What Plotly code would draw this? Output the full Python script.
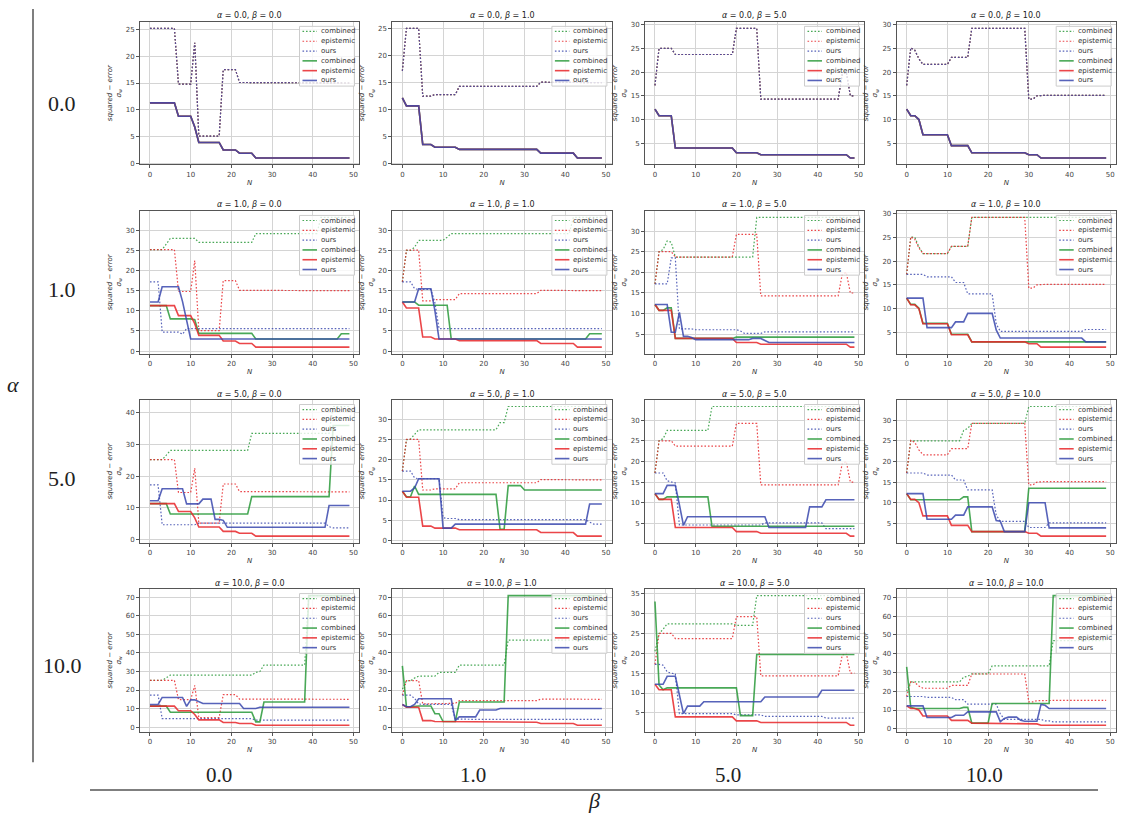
import numpy as np
import plotly.graph_objects as go

ALPHAS = [0.0, 1.0, 5.0, 10.0]
BETAS = [0.0, 1.0, 5.0, 10.0]
N = np.arange(50)
METHODS = ["combined", "epistemic", "ours"]

# Step curves along N = 0..49, stored as (value, run length) pairs.
# Epistemic curves depend on beta only.
epi_dot_b0 = [(25.2, 7), (14.8, 4), (22.5, 1), (5.1, 6), (17.5, 4), (15.1, 4), (15.0, 24)]
epi_dot_b1 = [(17.2, 1), (25.1, 4), (12.5, 3), (12.8, 6), (14.3, 20), (15.1, 12), (15.0, 4)]
epi_dot_b5 = [(17.2, 1), (25.0, 4), (23.7, 15), (29.2, 6), (14.3, 20), (19.5, 1), (20.0, 1), (15.0, 2)]
epi_dot_b10 = [(17.2, 1), (25.1, 1), (24.6, 1), (22.8, 1), (21.6, 7), (23.1, 5), (29.2, 14), (14.3, 2), (15.0, 1), (15.1, 17)]

epi_sol_b0 = [(11.3, 7), (8.8, 4), (6.8, 1), (3.9, 6), (2.5, 4), (1.9, 4), (1.0, 24)]
epi_sol_b1 = [(12.2, 1), (10.7, 4), (3.5, 3), (3.0, 6), (2.6, 20), (1.9, 9), (1.0, 7)]
epi_sol_b5 = [(12.2, 1), (10.8, 4), (4.0, 15), (3.0, 6), (2.6, 22), (1.9, 2)]
epi_sol_b10 = [(12.2, 1), (10.8, 2), (10.0, 1), (6.8, 7), (4.5, 5), (3.0, 14), (2.6, 3), (1.9, 17)]

# alpha = 1
comb_dot_a1_b0 = [(25.2, 4), (26.6, 1), (28.0, 7), (27.0, 14), (29.2, 16), (33.2, 8)]
ours_dot_a1_b0 = [(17.2, 3), (4.7, 5), (4.2, 1), (5.6, 41)]
comb_sol_a1_b0 = [(11.3, 5), (8.0, 6), (7.8, 1), (4.4, 14), (3.0, 21), (4.3, 3)]
ours_sol_a1_b0 = [(12.2, 3), (16.0, 5), (12.3, 1), (7.5, 1), (3.0, 40)]

comb_dot_a1_b1 = [(17.2, 1), (25.0, 2), (25.8, 1), (27.5, 7), (28.3, 1), (29.2, 30), (33.2, 8)]
ours_dot_a1_b1 = [(17.2, 3), (15.5, 1), (15.3, 4), (12.0, 1), (5.6, 41)]
comb_sol_a1_b1 = [(12.2, 4), (11.4, 8), (3.0, 34), (4.3, 4)]
ours_sol_a1_b1 = [(12.2, 4), (15.5, 4), (10.0, 1), (3.0, 41)]

comb_dot_a1_b5 = [(17.2, 1), (25.0, 1), (25.5, 1), (27.6, 1), (27.3, 1), (23.7, 20), (33.3, 25)]
ours_dot_a1_b5 = [(17.2, 4), (23.5, 2), (6.3, 4), (6.1, 11), (5.8, 1), (5.2, 5), (5.6, 23)]
comb_sol_a1_b5 = [(12.2, 1), (10.8, 2), (11.4, 2), (4.0, 15), (4.3, 30)]
ours_sol_a1_b5 = [(12.2, 4), (5.5, 2), (10.3, 1), (4.5, 2), (4.2, 1), (3.7, 14), (4.0, 3), (3.5, 1), (3.0, 22)]

comb_dot_a1_b10 = [(17.2, 1), (25.1, 1), (25.0, 1), (23.0, 1), (21.6, 7), (23.1, 5), (29.2, 34)]
ours_dot_a1_b10 = [(17.2, 5), (16.7, 7), (15.5, 3), (13.1, 7), (6.8, 1), (5.2, 21), (5.6, 6)]
comb_sol_a1_b10 = [(12.2, 1), (10.9, 2), (10.1, 1), (6.9, 7), (4.6, 5), (3.0, 34)]
ours_sol_a1_b10 = [(12.2, 5), (6.0, 7), (7.2, 3), (9.0, 7), (5.5, 1), (3.8, 21), (3.0, 6)]

# alpha = 5
comb_dot_a5_b0 = [(25.2, 4), (26.6, 1), (28.1, 20), (33.5, 20), (42.0, 5)]
ours_dot_a5_b0 = [(17.2, 3), (4.6, 9), (5.1, 32), (4.0, 1), (3.6, 5)]
comb_sol_a5_b0 = [(11.3, 5), (8.0, 20), (13.5, 20), (36.0, 5)]
ours_sol_a5_b0 = [(12.2, 3), (16.0, 6), (11.2, 4), (12.7, 3), (6.3, 2), (6.0, 1), (3.8, 25), (10.7, 6)]

comb_dot_a5_b1 = [(17.2, 1), (25.0, 1), (25.2, 1), (26.5, 1), (27.5, 20), (29.3, 2), (33.3, 24)]
ours_dot_a5_b1 = [(17.2, 3), (15.5, 1), (15.3, 6), (5.6, 1), (5.4, 3), (5.1, 32), (4.5, 1), (4.0, 3)]
comb_sol_a5_b1 = [(12.2, 1), (10.8, 2), (13.5, 1), (11.4, 20), (2.7, 2), (13.6, 4), (12.5, 20)]
ours_sol_a5_b1 = [(12.2, 3), (13.0, 1), (15.3, 6), (3.0, 3), (4.0, 33), (9.0, 4)]

comb_dot_a5_b5 = [(17.2, 1), (25.0, 1), (25.5, 1), (27.5, 11), (33.3, 36)]
ours_dot_a5_b5 = [(17.2, 3), (15.3, 1), (15.0, 1), (14.8, 1), (4.6, 21), (5.1, 15), (3.7, 8)]
comb_sol_a5_b5 = [(12.2, 1), (10.8, 2), (11.4, 11), (4.3, 36)]
ours_sol_a5_b5 = [(12.2, 3), (14.2, 3), (9.5, 1), (4.5, 1), (6.6, 20), (4.0, 10), (9.0, 4), (10.7, 8)]

comb_dot_a5_b10 = [(17.2, 1), (25.0, 13), (27.5, 1), (28.0, 1), (29.2, 14), (33.3, 20)]
ours_dot_a5_b10 = [(17.2, 5), (16.7, 7), (15.5, 3), (13.1, 7), (7.0, 1), (5.5, 7), (4.0, 5), (5.1, 15)]
comb_sol_a5_b10 = [(12.2, 1), (10.7, 13), (11.4, 2), (3.0, 14), (13.5, 20)]
ours_sol_a5_b10 = [(12.2, 5), (6.0, 7), (7.0, 3), (9.0, 7), (5.7, 1), (5.5, 1), (3.0, 6), (10.0, 5), (3.9, 15)]

# alpha = 10
comb_dot_a10_b0 = [(25.2, 4), (26.6, 1), (28.1, 21), (29.5, 1), (30.0, 1), (33.5, 11), (71.0, 11)]
ours_dot_a10_b0 = [(17.2, 3), (4.6, 23), (3.7, 24)]
comb_sol_a10_b0 = [(11.3, 5), (8.0, 21), (2.8, 2), (13.5, 11), (71.0, 11)]
ours_sol_a10_b0 = [(12.2, 3), (16.0, 6), (11.2, 1), (14.7, 2), (13.5, 1), (12.7, 10), (10.0, 4), (10.7, 23)]

comb_dot_a10_b1 = [(20.5, 1), (25.0, 2), (26.5, 1), (27.5, 5), (29.5, 5), (33.5, 12), (47.0, 24)]
ours_dot_a10_b1 = [(17.2, 3), (15.5, 1), (12.5, 1), (12.2, 8), (4.3, 1), (4.2, 36)]
comb_sol_a10_b1 = [(33.0, 1), (11.0, 2), (11.4, 5), (7.2, 2), (3.0, 4), (13.5, 12), (71.0, 24)]
ours_sol_a10_b1 = [(12.2, 1), (11.0, 2), (12.2, 1), (15.3, 9), (3.6, 1), (5.5, 5), (9.2, 5), (10.0, 26)]

comb_dot_a10_b5 = [(20.5, 1), (25.0, 1), (26.0, 1), (27.4, 17), (27.0, 5), (34.5, 25)]
ours_dot_a10_b5 = [(17.2, 2), (17.0, 1), (15.3, 1), (15.0, 1), (14.8, 1), (4.8, 14), (4.5, 7), (4.1, 15), (3.7, 8)]
comb_sol_a10_b5 = [(33.0, 1), (12.0, 1), (10.8, 1), (11.3, 18), (4.3, 4), (19.7, 25)]
ours_sol_a10_b5 = [(12.2, 3), (14.2, 3), (9.5, 1), (4.8, 1), (6.7, 4), (7.8, 15), (9.0, 14), (10.7, 9)]

comb_dot_a10_b10 = [(20.0, 1), (25.0, 13), (27.5, 1), (28.0, 1), (29.3, 5), (33.5, 15), (47.0, 14)]
ours_dot_a10_b10 = [(17.2, 5), (16.7, 7), (15.5, 3), (13.1, 8), (8.0, 1), (5.0, 10), (4.2, 2), (3.7, 14)]
comb_sol_a10_b10 = [(33.0, 1), (11.5, 1), (10.8, 12), (11.4, 2), (3.0, 5), (13.5, 15), (71.0, 14)]
ours_sol_a10_b10 = [(12.2, 5), (6.0, 7), (7.2, 3), (9.0, 8), (3.8, 1), (5.5, 1), (6.2, 3), (4.5, 1), (4.0, 4), (13.0, 1), (12.5, 1), (10.8, 15)]

EPI_DOT = {0.0: epi_dot_b0, 1.0: epi_dot_b1, 5.0: epi_dot_b5, 10.0: epi_dot_b10}
EPI_SOL = {0.0: epi_sol_b0, 1.0: epi_sol_b1, 5.0: epi_sol_b5, 10.0: epi_sol_b10}

# (combined dotted, ours dotted, combined solid, ours solid) per (alpha, beta);
# with alpha = 0 all three methods coincide with the epistemic curves.
PANELS = {}
for b in BETAS:
    PANELS[(0.0, b)] = (EPI_DOT[b], EPI_DOT[b], EPI_SOL[b], EPI_SOL[b])
PANELS.update({
    (1.0, 0.0): (comb_dot_a1_b0, ours_dot_a1_b0, comb_sol_a1_b0, ours_sol_a1_b0),
    (1.0, 1.0): (comb_dot_a1_b1, ours_dot_a1_b1, comb_sol_a1_b1, ours_sol_a1_b1),
    (1.0, 5.0): (comb_dot_a1_b5, ours_dot_a1_b5, comb_sol_a1_b5, ours_sol_a1_b5),
    (1.0, 10.0): (comb_dot_a1_b10, ours_dot_a1_b10, comb_sol_a1_b10, ours_sol_a1_b10),
    (5.0, 0.0): (comb_dot_a5_b0, ours_dot_a5_b0, comb_sol_a5_b0, ours_sol_a5_b0),
    (5.0, 1.0): (comb_dot_a5_b1, ours_dot_a5_b1, comb_sol_a5_b1, ours_sol_a5_b1),
    (5.0, 5.0): (comb_dot_a5_b5, ours_dot_a5_b5, comb_sol_a5_b5, ours_sol_a5_b5),
    (5.0, 10.0): (comb_dot_a5_b10, ours_dot_a5_b10, comb_sol_a5_b10, ours_sol_a5_b10),
    (10.0, 0.0): (comb_dot_a10_b0, ours_dot_a10_b0, comb_sol_a10_b0, ours_sol_a10_b0),
    (10.0, 1.0): (comb_dot_a10_b1, ours_dot_a10_b1, comb_sol_a10_b1, ours_sol_a10_b1),
    (10.0, 5.0): (comb_dot_a10_b5, ours_dot_a10_b5, comb_sol_a10_b5, ours_sol_a10_b5),
    (10.0, 10.0): (comb_dot_a10_b10, ours_dot_a10_b10, comb_sol_a10_b10, ours_sol_a10_b10),
})


def expand(runs):
    vals = np.repeat([v for v, _ in runs], [c for _, c in runs]).astype(float)
    assert len(vals) == len(N)
    return vals


# ---- page geometry (pixels) ----
FIG_W, FIG_H = 1123, 815
COL_LEFT = [140.0, 392.4, 645.0, 896.7]
ROW_TOP = [21.0, 211.0, 401.0, 591.0]
AX_W, AX_H = 219.4, 143.3


def px(x):
    return x / FIG_W


def py(y):
    return 1 - y / FIG_H


COLORS = {"combined": "#2a9a3a", "epistemic": "#e8262a", "ours": "#3a48ae"}
DOT = "1.6px,1.9px"
FONT = "DejaVu Sans"
SERIF = "Liberation Serif"
TXT = "#333333"
Y_TITLE = "<i>squared</i> − <i>error</i><br><i>σ</i><sub>w</sub>"

fig = go.Figure()
shapes, annotations = [], []
layout_axes = {}

for r, a in enumerate(ALPHAS):
    for c, b in enumerate(BETAS):
        k = r * 4 + c + 1
        xs = "x" if k == 1 else f"x{k}"
        ys = "y" if k == 1 else f"y{k}"
        comb_d, ours_d, comb_s, ours_s = PANELS[(a, b)]
        curves = [
            ("combined", expand(comb_d), True),
            ("epistemic", expand(EPI_DOT[b]), True),
            ("ours", expand(ours_d), True),
            ("combined", expand(comb_s), False),
            ("epistemic", expand(EPI_SOL[b]), False),
            ("ours", expand(ours_s), False),
        ]
        lo = min(v.min() for _, v, _ in curves)
        hi = max(v.max() for _, v, _ in curves)
        pad = 0.05 * (hi - lo)
        for name, vals, dotted in curves:
            fig.add_trace(go.Scatter(
                x=N, y=vals, mode="lines", name=name, showlegend=False,
                hoverinfo="skip", opacity=0.85, xaxis=xs, yaxis=ys,
                line=dict(color=COLORS[name], width=1.2 if dotted else 1.6,
                          dash=DOT if dotted else "solid"),
            ))

        left, top = COL_LEFT[c], ROW_TOP[r]
        right, bottom = left + AX_W, top + AX_H
        common = dict(showgrid=True, gridcolor="#d4d4d4", gridwidth=1,
                      showline=True, mirror=True, linecolor="#555555", linewidth=1,
                      ticks="outside", ticklen=3, tickcolor="#555555",
                      tickfont=dict(family=FONT, size=7, color="#444444"),
                      zeroline=False, fixedrange=True)
        layout_axes["xaxis" if k == 1 else f"xaxis{k}"] = dict(
            domain=[px(left), px(right)], anchor=ys, range=[-2.45, 51.45],
            tick0=0, dtick=10,
            title=dict(text="<i>N</i>", standoff=2,
                       font=dict(family=FONT, size=7, color=TXT)),
            automargin=True, **common)
        layout_axes["yaxis" if k == 1 else f"yaxis{k}"] = dict(
            domain=[py(bottom), py(top)], anchor=xs, range=[lo - pad, hi + pad],
            tick0=0, dtick=5 if (hi - lo) < 38 else 10,
            title=dict(text=Y_TITLE, standoff=3,
                       font=dict(family=FONT, size=7, color=TXT)),
            automargin=True, **common)

        # panel title
        annotations.append(dict(
            text=f"<i>α</i> = {a:.1f}, <i>β</i> = {b:.1f}", x=px(left + AX_W / 2),
            y=py(top - 6), xref="paper", yref="paper", showarrow=False,
            xanchor="center", yanchor="middle", font=dict(family=FONT, size=8, color="#222222")))

        # legend box with six entries
        shapes.append(dict(
            type="rect", xref="paper", yref="paper",
            x0=px(left + 159.5), x1=px(left + 214.5), y0=py(top + 64.5), y1=py(top + 4.5),
            fillcolor="rgba(255,255,255,0.8)", line=dict(color="#cccccc", width=1), layer="above"))
        for i, (name, _, dotted) in enumerate(curves):
            yy = py(top + 9.6 + 9.85 * i)
            shapes.append(dict(
                type="line", xref="paper", yref="paper",
                x0=px(left + 162.5), x1=px(left + 177), y0=yy, y1=yy, layer="above",
                opacity=0.85,
                line=dict(color=COLORS[name], width=1.2 if dotted else 1.6,
                          dash=DOT if dotted else "solid")))
            annotations.append(dict(
                text=name, x=px(left + 179), y=yy, xref="paper", yref="paper",
                showarrow=False, xanchor="left", yanchor="middle",
                font=dict(family=FONT, size=7, color=TXT)))

# outer table labels
ROW_LABEL_Y = [103, 290, 480, 668]
COL_LABEL_X = [219, 473, 728, 984]
for r, a in enumerate(ALPHAS):
    annotations.append(dict(
        text=f"{a:.1f}", x=px(62), y=py(ROW_LABEL_Y[r]), xref="paper", yref="paper",
        showarrow=False, xanchor="center", yanchor="middle",
        font=dict(family=SERIF, size=22, color="#222222")))
for c, b in enumerate(BETAS):
    annotations.append(dict(
        text=f"{b:.1f}", x=px(COL_LABEL_X[c]), y=py(778), xref="paper", yref="paper",
        showarrow=False, xanchor="center", yanchor="middle",
        font=dict(family=SERIF, size=21, color="#222222")))
annotations.append(dict(
    text="<i>α</i>", x=px(13), y=py(385), xref="paper", yref="paper", showarrow=False,
    xanchor="center", yanchor="middle", font=dict(family=SERIF, size=22, color="#222222")))
annotations.append(dict(
    text="<i>β</i>", x=px(594), y=py(803), xref="paper", yref="paper", showarrow=False,
    xanchor="center", yanchor="middle", font=dict(family=SERIF, size=22, color="#222222")))
shapes.append(dict(type="line", xref="paper", yref="paper", x0=px(33), x1=px(33),
                   y0=py(8), y1=py(765), line=dict(color="#555555", width=1.5)))
shapes.append(dict(type="line", xref="paper", yref="paper", x0=px(90), x1=px(1098),
                   y0=py(793), y1=py(793), line=dict(color="#555555", width=1.5)))

fig.update_layout(
    width=FIG_W, height=FIG_H, margin=dict(l=0, r=0, t=0, b=0),
    paper_bgcolor="white", plot_bgcolor="white", showlegend=False,
    shapes=shapes, annotations=annotations, **layout_axes)

fig.write_html("out.html")
